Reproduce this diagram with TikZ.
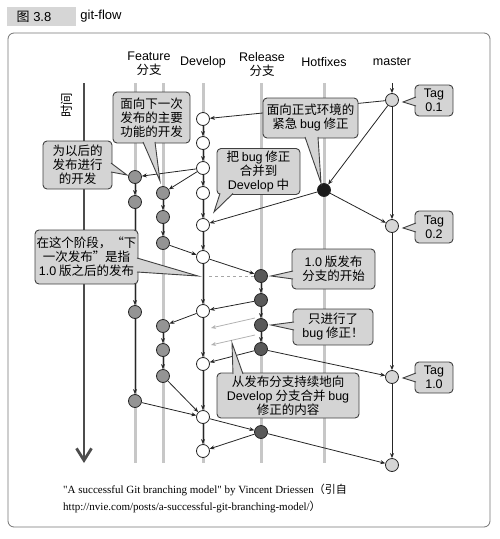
\documentclass[tikz,border=0pt]{standalone}
\usepackage{fontspec}
\setmainfont{Liberation Sans}
\newfontfamily\cjk{Noto Sans CJK SC}
\newfontfamily\citefont{Liberation Serif}
\usetikzlibrary{arrows.meta, positioning, calc}

\newcommand{\en}[1]{{\rmfamily #1}}
\newcommand{\tail}[3]{%
    \fill[tailfill] #1 -- #3 -- #2 -- cycle;
    \draw[tailline] #1 -- #3 -- #2;}

\begin{document}
\begin{tikzpicture}[
        x=1pt, y=-1pt,
        commit/.style={circle, draw=black!85, line width=0.8pt, minimum size=13pt, inner sep=0pt},
        dev/.style={commit, fill=white},
        feat/.style={commit, fill=black!42},
        rel/.style={commit, fill=black!65},
        hot/.style={commit, fill=black!90},
        mst/.style={commit, fill=black!16},
        lane/.style={line width=3pt, black!22},
        flow/.style={-{Stealth[length=5pt, width=4pt]}, line width=0.8pt, black!85},
        ghost/.style={-{Stealth[length=5pt, width=4pt]}, line width=0.8pt, black!30},
        note/.style={rectangle, rounded corners=4pt, draw=black!75, line width=0.9pt, fill=black!17, align=center, inner sep=0pt, font=\fontsize{12.5}{14}\selectfont\cjk},
        tag/.style={note, font=\fontsize{12.5}{14}\selectfont},
        tailfill/.style={fill=black!17},
        tailline/.style={draw=black!75, line width=0.9pt},
        head/.style={align=center, font=\fontsize{12.5}{14}\selectfont}
    ]
    \useasboundingbox (0,0) rectangle (500,539);

    % Title and frame
    \fill[black!16] (7,7) rectangle (76,26);
    \node[font=\fontsize{13}{15}\selectfont] (figno) at (34,16.5) {{\cjk 图} 3.8};
    \node[font=\fontsize{13}{15}\selectfont] (figname) at (101,16.5) {git-flow};
    \draw[black!55, line width=0.8pt, rounded corners=6pt] (8,33) rectangle (490,527);

    % Branch headers
    \node[head] (hfeat) at (149,64) {Feature\\{\cjk 分支}};
    \node[head] (hdev) at (203,62) {Develop};
    \node[head] (hrel) at (262,64) {Release\\{\cjk 分支}};
    \node[head] (hhot) at (324,62) {Hotfixes};
    \node[head] (hmst) at (392,62) {master};

    % Lanes and time axis
    \foreach \x in {135,163,203,261,324}
        \draw[lane] (\x,83) -- (\x,463);
    \coordinate (t0) at (84,83);
    \coordinate (t1) at (84,463);
    \draw[black!70, line width=2.8pt, -{Straight Barb[length=12pt, width=15pt]}] (t0) -- (t1);
    \node[rotate=90, font=\fontsize{12.5}{14}\selectfont\cjk] (timelbl) at (67,105) {时间};

    % Commits
    \node[mst] (m1) at (392,100) {};
    \node[mst] (m2) at (392,226) {};
    \node[mst] (m3) at (392,377) {};
    \node[mst] (m4) at (392,465) {};
    \node[hot] (h1) at (324,190) {};
    \node[dev] (d1) at (203,119) {};
    \node[dev] (d2) at (203,143) {};
    \node[dev] (d3) at (203,168) {};
    \node[dev] (d4) at (203,193) {};
    \node[dev] (d5) at (203,225) {};
    \node[dev] (d6) at (203,257) {};
    \node[dev] (d7) at (203,311) {};
    \node[dev] (d8) at (203,364) {};
    \node[dev] (d9) at (203,417) {};
    \node[dev] (d10) at (203,451) {};
    \node[feat] (fa1) at (135,177) {};
    \node[feat] (fa2) at (135,202) {};
    \node[feat] (fa3) at (135,312) {};
    \node[feat] (fa4) at (135,401) {};
    \node[feat] (fb1) at (163,193) {};
    \node[feat] (fb2) at (163,217) {};
    \node[feat] (fb3) at (163,243) {};
    \node[feat] (fb4) at (163,326) {};
    \node[feat] (fb5) at (163,350) {};
    \node[feat] (fb6) at (163,376) {};
    \node[rel] (r1) at (261,276) {};
    \node[rel] (r2) at (261,300) {};
    \node[rel] (r3) at (261,325) {};
    \node[rel] (r4) at (261,349) {};
    \node[rel] (r5) at (261,432) {};

    % master and hotfix
    \coordinate (mtop) at (392,83);
    \draw[flow] (mtop) -- (m1);
    \draw[flow] (m1) -- (m2);
    \draw[flow] (m2) -- (m3);
    \draw[flow] (m3) -- (m4);
    \draw[flow] (m1) -- (d1);
    \draw[flow] (m1) -- (h1);
    \draw[flow] (h1) -- (m2);
    \draw[flow] (h1) -- (d5);

    % develop
    \draw[flow] (d1) -- (d2);
    \draw[flow] (d2) -- (d3);
    \draw[flow] (d3) -- (d4);
    \draw[flow] (d4) -- (d5);
    \draw[flow] (d5) -- (d6);
    \draw[flow] (d6) -- (d7);
    \draw[flow] (d7) -- (d8);
    \draw[flow] (d8) -- (d9);
    \draw[flow] (d9) -- (d10);

    % feature branches
    \draw[flow] (d3) -- (fa1);
    \draw[flow] (d3) -- (fb1);
    \draw[flow] (fa1) -- (fa2);
    \draw[flow] (fa2) -- (fa3);
    \draw[flow] (fa3) -- (fa4);
    \draw[flow] (fa4) -- (d9);
    \draw[flow] (fb1) -- (fb2);
    \draw[flow] (fb2) -- (fb3);
    \draw[flow] (fb3) -- (d6);
    \draw[flow] (d7) -- (fb4);
    \draw[flow] (fb4) -- (fb5);
    \draw[flow] (fb5) -- (fb6);
    \draw[flow] (fb6) -- (d9);

    % release branches
    \coordinate (cut) at (209,276);
    \draw[black!35, dashed, line width=0.7pt] (cut) -- (r1);
    \draw[flow] (d6) -- (r1);
    \draw[flow] (r1) -- (r2);
    \draw[flow] (r2) -- (r3);
    \draw[flow] (r3) -- (r4);
    \draw[flow] (r2) -- (d7);
    \draw[flow] (r4) -- (d8);
    \draw[flow] (r4) -- (m3);
    \draw[flow] (d9) -- (r5);
    \draw[flow] (r5) -- (d10);
    \draw[flow] (r5) -- (m4);
    \coordinate (g1a) at (255,318);
    \coordinate (g1b) at (211,328);
    \coordinate (g2a) at (255,335);
    \coordinate (g2b) at (211,345);
    \draw[ghost] (g1a) -- (g1b);
    \draw[ghost] (g2a) -- (g2b);

    % Callouts
    \node[note, minimum width=77pt, minimum height=51pt] (nextrel) at (151.5,117.5) {面向下一次\\发布的主要\\功能的开发};
    \tail{(143,142)}{(155,142)}{(160,181)}
    \node[note, minimum width=69pt, minimum height=48pt] (laterrel) at (77.5,165) {为以后的\\发布进行\\的开发};
    \tail{(111,163)}{(111,172)}{(127,175)}
    \node[note, minimum width=95pt, minimum height=40pt] (hotnote) at (310.5,118) {面向正式环境的\\紧急 \en{bug} 修正};
    \tail{(305,137)}{(318,137)}{(321,183)}
    \node[note, minimum width=83pt, minimum height=46pt] (mergenote) at (258.5,171.5) {把 \en{bug} 修正\\合并到\\\en{Develop} 中};
    \tail{(220,193.5)}{(233,193.5)}{(214,212)}
    \node[note, minimum width=103pt, minimum height=54pt] (stagenote) at (86.5,257) {在这个阶段，“下\\一次发布”是指\\\en{1.0} 版之后的发布};
    \tail{(137,258)}{(137,272)}{(198,276)}
    \node[note, minimum width=83pt, minimum height=40pt] (relstart) at (333.5,269) {\en{1.0} 版发布\\分支的开始};
    \tail{(293,271)}{(293,279)}{(271,276)}
    \node[note, minimum width=80pt, minimum height=36pt] (bugonly) at (333,327) {只进行了\\\en{bug} 修正！};
    \tail{(294,322)}{(294,330)}{(271,325)}
    \node[note, minimum width=142pt, minimum height=45pt] (backmerge) at (288,395.5) {从发布分支持续地向\\\en{Develop} 分支合并 \en{bug}\\修正的内容};
    \tail{(233,374)}{(243,374)}{(232,343)}
    \node[tag, minimum width=38pt, minimum height=31pt] (tag01) at (434,100.5) {Tag\\0.1};
    \tail{(416,97)}{(416,106)}{(403,102)}
    \node[tag, minimum width=38pt, minimum height=32pt] (tag02) at (434,227) {Tag\\0.2};
    \tail{(416,223)}{(416,232)}{(403,228)}
    \node[tag, minimum width=38pt, minimum height=31pt] (tag10) at (434,377.5) {Tag\\1.0};
    \tail{(416,373)}{(416,382)}{(403,378)}

    % Source
    \node[anchor=west, inner sep=0pt, font=\fontsize{11}{13}\citefont] (cite1) at (63,490) {"A successful Git branching model" by Vincent Driessen{\cjk（引自}};
    \node[anchor=west, inner sep=0pt, font=\fontsize{11}{13}\citefont] (cite2) at (63,507) {http://nvie.com/posts/a-successful-git-branching-model/{\cjk）}};
\end{tikzpicture}
\end{document}
